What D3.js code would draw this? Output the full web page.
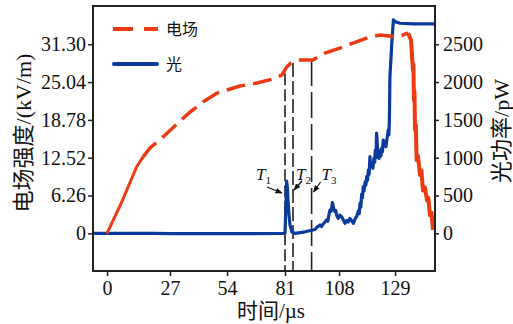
<!DOCTYPE html>
<html>
<head>
<meta charset="utf-8">
<script src="https://d3js.org/d3.v7.min.js"></script>
<style>
body { margin: 0; background: #fff; }
text { font-family: "Liberation Serif", "Noto Sans CJK SC", serif; fill: #111; }
</style>
</head>
<body>
<script>
const timeTicks = [0, 27, 54, 81, 108, 129];
const fieldTicks = [0, 6.26, 12.52, 18.78, 25.04, 31.30];
const powerTicks = [0, 500, 1000, 1500, 2000, 2500];

// 电场 (kV/m) vs time (us), in three pieces
const fieldRise = [[0, 0], [6, 4.9], [12.73, 11.03], [15.56, 12.69]];
const fieldMid = [[15.56, 12.69], [18.43, 14.13], [24.0, 15.95], [31.3, 18.43], [36.5, 20.08],
  [42.6, 21.74], [49.3, 23.23], [54, 23.73], [60.05, 24.39], [68.0, 24.89], [75.4, 25.56],
  [79.6, 26.22], [81, 27.05], [82, 27.59], [84, 28.2], [87.5, 28.7], [95, 28.7], [101, 29.86],
  [109.5, 30.85], [113.25, 31.51], [119.6, 32.51], [123.4, 32.84], [130.1, 32.51], [133.9, 33.17]];
const fieldDrop = [[133.9, 33.17], [135.0, 32.0], [135.75, 27.0], [135.9, 28.0], [136.1, 22.0],
  [136.3, 23.5], [136.5, 17.1], [136.8, 18.0], [137.1, 12.1], [137.6, 12.8], [138.4, 9.65],
  [138.9, 10.4], [139.5, 7.1], [140.2, 7.6], [141.0, 5.45], [141.5, 5.9], [142.1, 3.0],
  [142.7, 3.4], [143.25, 0.55]];

// 光 (pW) vs time (us)
const light = [[-6, 0], [20, 0], [27, -5], [60, -5], [80, 0], [81, 2], [81.4, 300], [81.85, 690],
  [82.2, 600], [82.5, 440], [83, 250], [83.5, 110], [84.5, 17], [86, 0], [88.5, 10], [91, 20],
  [94.3, 40], [96, 50], [97, 80], [98.5, 110], [99.2, 90], [100, 120], [101, 150], [101.8, 176],
  [102.4, 160], [103, 250], [103.5, 308], [104.1, 290], [104.7, 405], [105.3, 330], [106, 286],
  [106.4, 300], [106.8, 240], [107.6, 198], [108.3, 240], [109, 220], [109.6, 180], [110.25, 132],
  [111, 170], [111.5, 150], [112.1, 198], [112.7, 170], [113.4, 132], [114, 190], [114.6, 220],
  [115.3, 300], [115.6, 260], [115.9, 397], [116.2, 350], [116.5, 520], [116.8, 470],
  [117.1, 617], [117.4, 560], [117.8, 680], [118.1, 640], [118.4, 749], [118.7, 700],
  [119, 837], [119.3, 780], [119.6, 1013], [119.9, 880], [120.3, 926], [120.7, 860],
  [121.1, 992], [121.4, 940], [121.6, 1100], [121.85, 1000], [122.1, 1326], [122.4, 1150],
  [122.7, 1058], [123.0, 990], [123.4, 1090], [123.7, 1020], [124, 1124], [124.3, 1080],
  [124.6, 1234], [125.0, 1180], [125.6, 1146], [126.0, 1250], [126.5, 1367], [126.7, 1300],
  [126.9, 1499], [127.1, 2072], [127.8, 2514], [128.4, 2822], [129, 2800], [130.9, 2778],
  [135.9, 2769], [145, 2769]];

// marker times T1..T3 and the field value where each dashed line ends
const markerNames = ['1', '2', '3'];
const markerTimes = [81, 85, 94.3];
const markerTops = [26.5, 28.2, 28.7];

const width = 513, height = 324;
const pLeft = 93, pRight = 435, pTop = 6, pBottom = 271;

const svg = d3.select('body').append('svg')
  .attr('width', width).attr('height', height);

const x = d3.scaleLinear()
  .domain(timeTicks)
  .range([107, 170, 227, 285, 339, 395]);
const yL = d3.scaleLinear().domain([-6.24, 37.64]).range([pBottom, pTop]);
const yR = d3.scaleLinear().domain([-6.24 * 2500 / 31.3, 37.64 * 2500 / 31.3]).range([pBottom, pTop]);

svg.append('clipPath').attr('id', 'plot')
  .append('rect').attr('x', pLeft).attr('y', pTop)
  .attr('width', pRight - pLeft).attr('height', pBottom - pTop);

const red = '#ee3a12', blue = '#0b3a9e';

const g = svg.append('g').attr('clip-path', 'url(#plot)');

const lineE = d3.line().x(d => x(d[0])).y(d => yL(d[1]));
const lineP = d3.line().x(d => x(d[0])).y(d => yR(d[1]));

// marker dashed lines
const dashes = ['12,4', '14,4', '26,6'];
markerTimes.forEach((t, i) => {
  g.append('line')
    .attr('x1', x(t)).attr('x2', x(t))
    .attr('y1', yL(markerTops[i])).attr('y2', pBottom)
    .attr('stroke', '#222').attr('stroke-width', 1.6)
    .attr('stroke-dasharray', dashes[i]);
});

g.append('path').datum(light)
  .attr('d', lineP).attr('fill', 'none')
  .attr('stroke', blue).attr('stroke-width', 3.2).attr('stroke-linejoin', 'round');

g.append('path').datum(fieldRise)
  .attr('d', lineE).attr('fill', 'none')
  .attr('stroke', red).attr('stroke-width', 3);
g.append('path').datum(fieldMid)
  .attr('d', lineE).attr('fill', 'none')
  .attr('stroke', red).attr('stroke-width', 3.5)
  .attr('stroke-dasharray', '19,8');
g.append('path').datum(fieldDrop)
  .attr('d', lineE).attr('fill', 'none')
  .attr('stroke', red).attr('stroke-width', 4).attr('stroke-linejoin', 'round');

// axes
const axL = svg.append('g').attr('transform', `translate(${pLeft},0)`)
  .call(d3.axisLeft(yL).tickValues(fieldTicks)
    .tickFormat(d => d === 0 ? '0' : d.toFixed(2)).tickSize(5).tickPadding(2));
const axR = svg.append('g').attr('transform', `translate(${pRight},0)`)
  .call(d3.axisRight(yR).tickValues(powerTicks).tickFormat(d3.format('d'))
    .tickSize(4).tickPadding(4));
const axB = svg.append('g').attr('transform', `translate(0,${pBottom})`)
  .call(d3.axisBottom(x).tickValues(timeTicks).tickSize(5).tickPadding(5));

[axL, axR, axB].forEach(a => {
  a.select('.domain').remove();
  a.selectAll('.tick line').attr('stroke', '#222').attr('stroke-width', 1.5);
  a.selectAll('.tick text')
    .attr('font-family', '"Liberation Serif", serif')
    .attr('font-size', 20).attr('fill', '#111');
});

svg.append('rect')
  .attr('x', pLeft).attr('y', pTop)
  .attr('width', pRight - pLeft).attr('height', pBottom - pTop)
  .attr('fill', 'none').attr('stroke', '#222').attr('stroke-width', 2);

// axis titles
svg.append('text')
  .attr('x', 271).attr('y', 318)
  .attr('text-anchor', 'middle').attr('font-size', 21)
  .text('时间/µs');
svg.append('text')
  .attr('transform', 'translate(31,133) rotate(-90)')
  .attr('text-anchor', 'middle').attr('font-size', 22)
  .text('电场强度/(kV/m)');
svg.append('text')
  .attr('transform', 'translate(509,131) rotate(-90)')
  .attr('text-anchor', 'middle').attr('font-size', 22)
  .text('光功率/pW');

// legend
svg.append('line')
  .attr('x1', 113).attr('x2', 158).attr('y1', 29).attr('y2', 29)
  .attr('stroke', red).attr('stroke-width', 4).attr('stroke-dasharray', '20,11');
svg.append('text')
  .attr('x', 166).attr('y', 29).attr('dy', '0.36em')
  .attr('font-family', '"Noto Sans CJK SC"').attr('font-size', 16)
  .text('电场');
svg.append('line')
  .attr('x1', 114).attr('x2', 157).attr('y1', 64).attr('y2', 64)
  .attr('stroke', blue).attr('stroke-width', 4).attr('stroke-linecap', 'round');
svg.append('text')
  .attr('x', 166).attr('y', 64).attr('dy', '0.36em')
  .attr('font-family', '"Noto Sans CJK SC"').attr('font-size', 16)
  .text('光');

// marker labels and arrows
svg.append('defs').append('marker')
  .attr('id', 'arr').attr('viewBox', '0 0 10 10')
  .attr('refX', 9).attr('refY', 5)
  .attr('markerWidth', 6).attr('markerHeight', 6)
  .attr('orient', 'auto')
  .append('path').attr('d', 'M0,1 L10,5 L0,9 Z').attr('fill', '#111');

const labelDx = [-29, 3, 10];
const arrows = [[-18, 187, -3, 193], [9, 181, 1, 190], [9, 182, 2, 192]];
markerTimes.forEach((t, i) => {
  const px = x(t);
  const lab = svg.append('text')
    .attr('x', px + labelDx[i]).attr('y', 180)
    .attr('font-size', 17).attr('font-style', 'italic');
  lab.append('tspan').text('T');
  lab.append('tspan').attr('font-size', 11).attr('font-style', 'normal')
    .attr('dy', 4).text(markerNames[i]);
  const a = arrows[i];
  svg.append('line')
    .attr('x1', px + a[0]).attr('y1', a[1])
    .attr('x2', px + a[2]).attr('y2', a[3])
    .attr('stroke', '#111').attr('stroke-width', 1.2)
    .attr('marker-end', 'url(#arr)');
});
</script>
</body>
</html>
